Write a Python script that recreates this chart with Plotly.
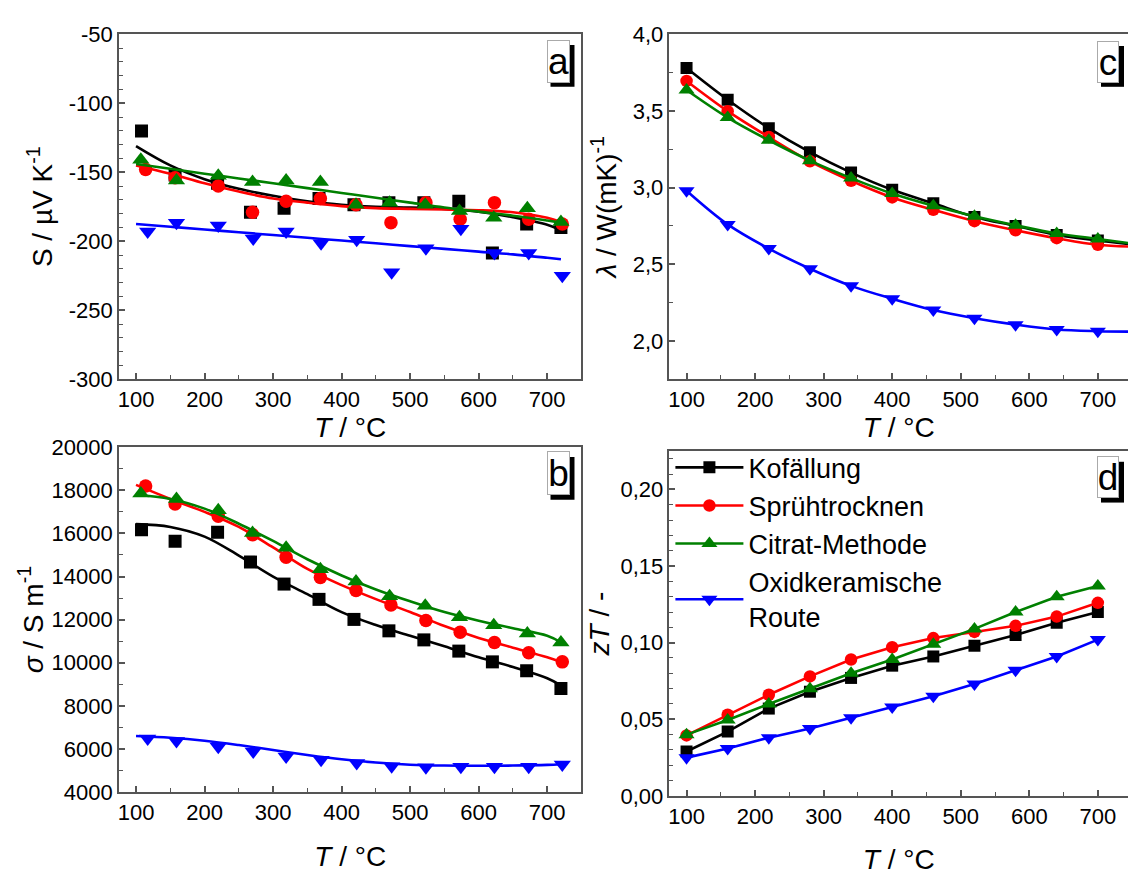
import plotly.graph_objects as go

# ---------------- data ----------------
SERIES = ["Kofällung", "Sprühtrocknen", "Citrat-Methode", "Oxidkeramische<br>Route"]
COLORS = ["#000000", "#ff0000", "#008000", "#0000ff"]
SYMBOLS = ["square", "circle", "triangle-up", "triangle-down"]

# measurement temperatures (°C) for Seebeck / conductivity
T_KOF = [108, 157, 219, 267, 316, 367, 418, 469, 520, 571, 620, 670, 720]
T_SPR = [114, 157, 220, 270, 319, 369, 421, 472, 523, 573, 623, 673, 722]
T_CIT = [107, 159, 220, 270, 319, 369, 421, 470, 522, 572, 622, 671, 720]
T_OXI = [117, 159, 220, 271, 319, 370, 422, 473, 523, 574, 623, 673, 722]

# Seebeck coefficient S / µV K^-1
S_KOF = [-120, -152, -158, -179, -176, -169, -173.5, -172, -172, -171, -208.5, -187.5, -190]
S_SPR = [-148, -154, -160, -179, -171, -169, -173.5, -186.5, -172, -184, -172, -184, -187.5]
S_CIT = [-141, -156, -152.5, -157, -156, -157, -173.5, -172, -173.5, -178, -183, -176, -186]
S_OXI = [-193, -186.5, -188.5, -198, -193, -201.5, -199, -222.5, -205, -191, -208.5, -208.5, -225]

# fitted curves for S and sigma
T_FIT = [100, 150, 200, 250, 300, 350, 400, 450, 500, 550, 600, 650, 700, 720]
S_FIT_KOF = [-131, -145, -155, -162, -167, -171, -173.5, -175, -175.5, -176.5, -178.5, -182.5, -188, -192]
S_FIT_SPR = [-145, -151, -158, -164, -169, -172, -174.5, -176, -176.5, -177, -177.5, -179, -183, -186]
S_FIT_CIT = [-144, -147.5, -151, -154.5, -158, -161.5, -165, -168.5, -172, -175.5, -178.5, -181.5, -185, -186.5]
S_FIT_OXI = [-187.5, -189.5, -191.5, -193.5, -195.5, -197.5, -199.5, -201.5, -203.5, -205.5, -207.5, -209.5, -212, -213]

# electrical conductivity sigma / S m^-1
SIG_KOF = [16170, 15640, 16050, 14670, 13650, 12940, 12010, 11480, 11060, 10540, 10040, 9630, 8810]
SIG_SPR = [18200, 17370, 16800, 15940, 14890, 13950, 13350, 12680, 11960, 11410, 10940, 10460, 10040]
SIG_CIT = [17850, 17600, 17070, 16020, 15340, 14340, 13770, 13090, 12640, 12110, 11740, 11360, 10940]
SIG_OXI = [6480, 6370, 6100, 5880, 5650, 5500, 5350, 5200, 5150, 5170, 5170, 5170, 5280]

SIG_FIT_KOF = [16430, 16300, 15850, 14970, 14000, 13180, 12350, 11750, 11250, 10760, 10250, 9800, 9280, 8950]
SIG_FIT_SPR = [18250, 17600, 17000, 16300, 15350, 14350, 13600, 12950, 12350, 11700, 11150, 10700, 10250, 10030]
SIG_FIT_CIT = [17780, 17600, 17150, 16450, 15650, 14800, 14050, 13400, 12850, 12350, 11950, 11600, 11250, 10950]
SIG_FIT_OXI = [6600, 6520, 6380, 6180, 5950, 5720, 5520, 5370, 5270, 5230, 5220, 5230, 5260, 5290]

# temperatures for thermal conductivity and zT
T_LAM = [100, 160, 220, 280, 340, 400, 460, 520, 580, 640, 700]
T_EDGE = 750  # fitted lambda curves continue to the axis end

# thermal conductivity lambda / W (mK)^-1
LAM_KOF = [3.78, 3.573, 3.388, 3.231, 3.098, 2.986, 2.898, 2.809, 2.750, 2.691, 2.655]
LAM_SPR = [3.696, 3.499, 3.330, 3.172, 3.045, 2.936, 2.855, 2.781, 2.722, 2.670, 2.627]
LAM_CIT = [3.637, 3.457, 3.309, 3.176, 3.062, 2.961, 2.881, 2.813, 2.754, 2.701, 2.665]
LAM_OXI = [2.98, 2.760, 2.602, 2.471, 2.359, 2.275, 2.201, 2.148, 2.106, 2.074, 2.063]
LAM_EDGE = [2.63, 2.615, 2.635, 2.06]

# figure of merit zT
ZT_KOF = [0.029, 0.042, 0.057, 0.068, 0.077, 0.085, 0.091, 0.098, 0.105, 0.113, 0.120]
ZT_SPR = [0.0395, 0.053, 0.066, 0.078, 0.089, 0.097, 0.103, 0.107, 0.111, 0.117, 0.126]
ZT_CIT = [0.040, 0.0496, 0.060, 0.070, 0.080, 0.089, 0.099, 0.109, 0.120, 0.130, 0.137]
ZT_OXI = [0.025, 0.031, 0.038, 0.044, 0.051, 0.058, 0.065, 0.073, 0.082, 0.091, 0.102]

# axis ticks
X_TICKS = [100, 200, 300, 400, 500, 600, 700]
X_TICKTEXT = ["100", "200", "300", "400", "500", "600", "700"]
S_TICKS = [-300, -250, -200, -150, -100, -50]
S_TICKTEXT = ["-300", "-250", "-200", "-150", "-100", "-50"]
SIG_TICKS = [4000, 6000, 8000, 10000, 12000, 14000, 16000, 18000, 20000]
SIG_TICKTEXT = ["4000", "6000", "8000", "10000", "12000", "14000", "16000", "18000", "20000"]
LAM_TICKS = [2.0, 2.5, 3.0, 3.5, 4.0]
LAM_TICKTEXT = ["2,0", "2,5", "3,0", "3,5", "4,0"]
ZT_TICKS = [0.0, 0.05, 0.10, 0.15, 0.20]
ZT_TICKTEXT = ["0,00", "0,05", "0,10", "0,15", "0,20"]

# ---------------- figure ----------------
W, H = 1128, 875
FONT = "Liberation Sans, Arial, sans-serif"
AXC = "#555555"
MARKER_SIZES = [13, 13.5, 15, 15]       # panels a and b
MARKER_SIZES_SMALL = [12, 12.5, 14, 14]  # panels c and d

fig = go.Figure()

def px_x(p):
    return p / W

def px_y(p):
    return 1 - p / H

def add_markers(x, y, i, xa, ya, sizes):
    fig.add_trace(go.Scatter(
        x=x, y=y, mode="markers", xaxis=xa, yaxis=ya, showlegend=False,
        marker=dict(symbol=SYMBOLS[i], color=COLORS[i], size=sizes[i],
                    line=dict(width=0)),
        name=SERIES[i]))

def add_fit(x, y, i, xa, ya):
    fig.add_trace(go.Scatter(
        x=x, y=y, mode="lines", xaxis=xa, yaxis=ya, showlegend=False,
        line=dict(color=COLORS[i], width=2.6, shape="spline", smoothing=1.0),
        name=SERIES[i], hoverinfo="skip"))

# (a) Seebeck
for i, (tx, s, f) in enumerate(zip([T_KOF, T_SPR, T_CIT, T_OXI],
                                   [S_KOF, S_SPR, S_CIT, S_OXI],
                                   [S_FIT_KOF, S_FIT_SPR, S_FIT_CIT, S_FIT_OXI])):
    add_fit(T_FIT, f, i, "x", "y")
    add_markers(tx, s, i, "x", "y", MARKER_SIZES)

# (c) thermal conductivity
for i, lam in enumerate([LAM_KOF, LAM_SPR, LAM_CIT, LAM_OXI]):
    add_fit(T_LAM + [T_EDGE], lam + [LAM_EDGE[i]], i, "x2", "y2")
    add_markers(T_LAM, lam, i, "x2", "y2", MARKER_SIZES_SMALL)

# (b) electrical conductivity
for i, (tx, s, f) in enumerate(zip([T_KOF, T_SPR, T_CIT, T_OXI],
                                   [SIG_KOF, SIG_SPR, SIG_CIT, SIG_OXI],
                                   [SIG_FIT_KOF, SIG_FIT_SPR, SIG_FIT_CIT, SIG_FIT_OXI])):
    add_fit(T_FIT, f, i, "x3", "y3")
    add_markers(tx, s, i, "x3", "y3", MARKER_SIZES)

# (d) zT, with legend
for i, z in enumerate([ZT_KOF, ZT_SPR, ZT_CIT, ZT_OXI]):
    fig.add_trace(go.Scatter(
        x=T_LAM, y=z, mode="lines+markers", xaxis="x4", yaxis="y4",
        name=SERIES[i], showlegend=True,
        line=dict(color=COLORS[i], width=2.6),
        marker=dict(symbol=SYMBOLS[i], color=COLORS[i], size=MARKER_SIZES_SMALL[i],
                    line=dict(width=0))))

tickfont = dict(family=FONT, size=22, color="black")
titlefont = dict(family=FONT, size=28, color="black")

def xaxis(domain, rng, standoff):
    return dict(
        domain=domain, range=rng, tickmode="array", tickvals=X_TICKS, ticktext=X_TICKTEXT,
        showline=True, linecolor=AXC, linewidth=1.5, mirror=True,
        ticks="inside", ticklen=6, tickwidth=1.5, tickcolor=AXC,
        minor=dict(tickmode="linear", tick0=0, dtick=50, ticks="inside", ticklen=4,
                   tickwidth=1.2, tickcolor=AXC),
        showgrid=False, zeroline=False, tickfont=tickfont,
        title=dict(text="<i>T</i> / °C", font=titlefont, standoff=standoff))

def yaxis(domain, rng, tv, tt, mdt, title, standoff, mirror, anchor):
    return dict(
        domain=domain, range=rng, anchor=anchor, tickmode="array", tickvals=tv, ticktext=tt,
        showline=True, linecolor=AXC, linewidth=1.5, mirror=mirror,
        ticks="inside", ticklen=6, tickwidth=1.5, tickcolor=AXC,
        minor=dict(tickmode="linear", tick0=0, dtick=mdt, ticks="inside", ticklen=4,
                   tickwidth=1.2, tickcolor=AXC),
        showgrid=False, zeroline=False, tickfont=tickfont,
        title=dict(text=title, font=titlefont, standoff=standoff))

XL = [px_x(118), px_x(581)]
XR = [px_x(669), 1.0]

fig.update_layout(
    width=W, height=H, margin=dict(l=0, r=0, t=0, b=0),
    paper_bgcolor="white", plot_bgcolor="white",
    font=dict(family=FONT, color="black"),
    xaxis=dict(xaxis(XL, [75, 750], 5), anchor="y"),
    yaxis=yaxis([px_y(378), px_y(23)], [-300, -50], S_TICKS, S_TICKTEXT, 10,
                "S / µV K<sup>-1</sup>", 8, True, "x"),
    xaxis2=dict(xaxis(XR, [75, 744], 5), anchor="y2"),
    yaxis2=yaxis([px_y(378), px_y(23)], [1.75, 4.0], LAM_TICKS, LAM_TICKTEXT, 0.25,
                 "<i>λ</i> / W(mK)<sup>-1</sup>", 8, False, "x2"),
    xaxis3=dict(xaxis(XL, [75, 750], 22), anchor="y3"),
    yaxis3=yaxis([px_y(803), px_y(448)], [4000, 20000], SIG_TICKS, SIG_TICKTEXT, 1000,
                 "<i>σ</i> / S m<sup>-1</sup>", 0, True, "x3"),
    xaxis4=dict(xaxis(XR, [75, 744], 22), anchor="y4"),
    yaxis4=yaxis([px_y(807), px_y(452)], [0, 0.225], ZT_TICKS, ZT_TICKTEXT, 0.01,
                 "<i>zT</i> / -", 3, False, "x4"),
    legend=dict(x=px_x(670), y=px_y(444), xanchor="left", yanchor="top",
                bgcolor="rgba(0,0,0,0)", borderwidth=0, itemwidth=68,
                font=dict(family=FONT, size=27, color="black"), tracegroupgap=0),
)

# panel letters: white box with offset black shadow
PANEL_LABELS = [("a", 546, 569, 29, 72), ("b", 546, 569, 453, 497),
                ("c", 1097, 1119, 30, 72), ("d", 1097, 1119, 458, 500)]
for letter, x0, x1, y0, y1 in PANEL_LABELS:
    fig.add_shape(type="rect", xref="paper", yref="paper",
                  x0=px_x(x0 + 4), x1=px_x(x1 + 5), y0=px_y(y1 + 5), y1=px_y(y0 + 5),
                  fillcolor="black", line=dict(width=0), layer="above")
    fig.add_annotation(xref="paper", yref="paper", x=px_x((x0 + x1) / 2), y=px_y((y0 + y1) / 2),
                       xanchor="center", yanchor="middle", text=letter, showarrow=False,
                       width=x1 - x0 - 2, height=y1 - y0 - 2, borderpad=0,
                       bgcolor="white", bordercolor="#aaaaaa", borderwidth=1,
                       font=dict(family=FONT, size=37, color="black"))

fig.write_html("out.html")
